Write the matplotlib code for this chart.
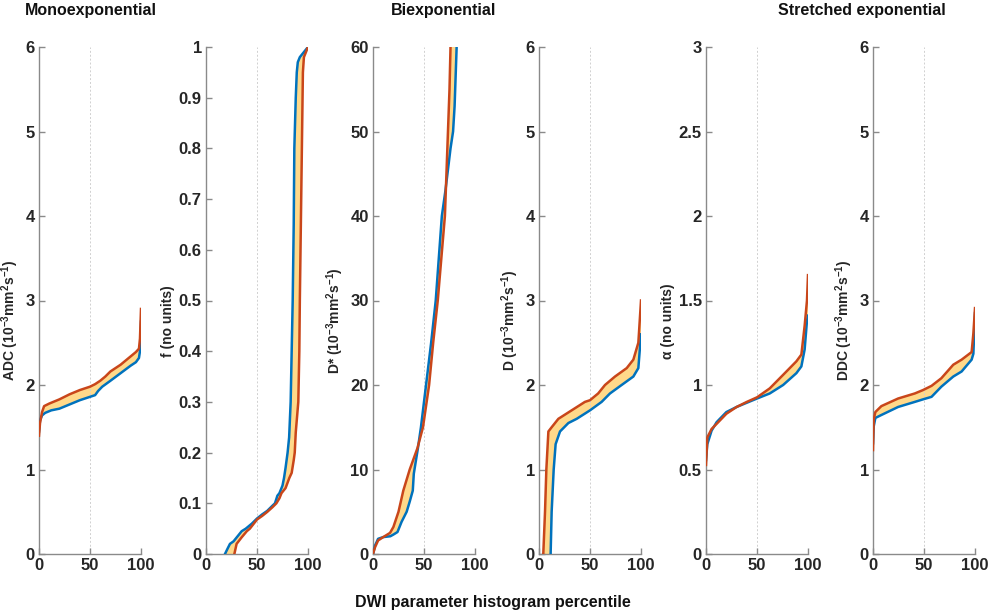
import matplotlib
matplotlib.use("Agg")
import matplotlib.pyplot as plt
import numpy as np

plt.rcParams["font.family"] = ["Liberation Sans", "DejaVu Sans"]
plt.rcParams["font.weight"] = "bold"
plt.rcParams["mathtext.fontset"] = "custom"
plt.rcParams["mathtext.default"] = "bf"
plt.rcParams["mathtext.bf"] = "Liberation Sans:bold"

# percentile -> value, blue and red curves per panel
adc_blue_p = [0, 1, 3, 6, 12, 20, 30, 40, 50, 55, 58, 62, 70, 80, 90, 95, 98, 99, 100]
adc_blue_v = [1.45, 1.58, 1.64, 1.67, 1.70, 1.72, 1.77, 1.82, 1.86, 1.88, 1.93, 1.98, 2.05, 2.14, 2.23, 2.27, 2.32, 2.40, 2.75]
adc_red_p = [0, 1, 3, 5, 10, 20, 30, 40, 50, 55, 60, 65, 70, 80, 90, 95, 98, 99, 100]
adc_red_v = [1.40, 1.55, 1.68, 1.75, 1.78, 1.83, 1.89, 1.94, 1.98, 2.01, 2.05, 2.10, 2.16, 2.24, 2.34, 2.39, 2.43, 2.55, 2.90]

f_blue_p = [18.6, 21, 23.5, 27, 31, 35, 39, 45, 50, 55, 60, 65, 67.6, 70, 72, 75, 76.5, 78, 80, 81.5, 83, 84, 85, 86, 86.6, 88, 89, 90, 92, 96, 100]
f_blue_v = [0, 0.01, 0.02, 0.025, 0.035, 0.045, 0.05, 0.06, 0.07, 0.078, 0.085, 0.095, 0.10, 0.115, 0.12, 0.135, 0.15, 0.17, 0.20, 0.23, 0.30, 0.40, 0.50, 0.65, 0.80, 0.90, 0.95, 0.97, 0.98, 0.99, 1.0]
f_red_p = [27.8, 30, 35, 40, 43, 50, 55, 60, 65, 69, 72, 74, 78, 81.7, 84, 86, 87, 88, 90.5, 91.5, 92, 93, 94, 95, 96, 98, 100]
f_red_v = [0, 0.02, 0.033, 0.045, 0.05, 0.068, 0.075, 0.083, 0.092, 0.10, 0.11, 0.12, 0.13, 0.15, 0.16, 0.185, 0.20, 0.24, 0.30, 0.40, 0.50, 0.65, 0.80, 0.95, 0.98, 0.99, 1.0]

ds_blue_p = [0, 2, 5, 10, 17, 20, 24, 28, 33, 36, 39, 40, 44, 47, 52, 57, 61.5, 64.5, 67.5, 71, 74, 76, 78.5, 80, 82, 84]
ds_blue_v = [0, 1.0, 1.8, 2.0, 2.1, 2.3, 2.6, 3.8, 5.0, 6.2, 7.5, 9.5, 12.5, 15, 20, 25, 30, 35, 40, 43, 46, 48, 50, 53, 60, 66]
ds_red_p = [0, 2, 5, 10, 16.7, 20, 25, 29.7, 36, 43.5, 49, 55, 59, 63.5, 67, 70.5, 72, 73.5, 75, 76, 77]
ds_red_v = [0, 0.8, 1.6, 2.0, 2.5, 3.2, 5.0, 7.5, 10, 12.5, 15, 20, 25, 30, 35, 40, 45, 50, 55, 60, 64]

d_blue_p = [11.4, 12.4, 14.4, 16.3, 20.6, 28.8, 37, 50, 61.4, 69.6, 81, 92.5, 97.4, 100]
d_blue_v = [0, 0.5, 1.0, 1.3, 1.45, 1.55, 1.6, 1.7, 1.8, 1.9, 2.0, 2.1, 2.2, 2.6]
d_red_p = [4.2, 5.9, 7.2, 9.2, 12.4, 19, 32, 45, 50, 58, 64.7, 74.5, 86, 92.5, 97.4, 100]
d_red_v = [0, 0.5, 1.0, 1.45, 1.5, 1.6, 1.7, 1.8, 1.82, 1.9, 2.0, 2.1, 2.2, 2.3, 2.5, 3.0]

a_blue_p = [0, 1.3, 5.5, 10.4, 20, 30, 40, 50, 62.5, 75.6, 88.6, 93.5, 96.7, 99, 100]
a_blue_v = [0.556, 0.65, 0.73, 0.78, 0.84, 0.87, 0.895, 0.92, 0.95, 1.0, 1.07, 1.11, 1.21, 1.38, 1.41]
a_red_p = [0, 1.3, 5.5, 10.4, 20, 30, 40, 50, 62.5, 75.6, 88.6, 93.5, 96.7, 99, 100]
a_red_v = [0.527, 0.69, 0.74, 0.77, 0.83, 0.87, 0.90, 0.927, 0.98, 1.06, 1.14, 1.18, 1.35, 1.50, 1.65]

ddc_blue_p = [0, 0.7, 2.3, 8.2, 24.6, 41, 49, 57.4, 67, 78.7, 86.9, 96.7, 98.4, 100]
ddc_blue_v = [1.31, 1.51, 1.61, 1.645, 1.74, 1.80, 1.83, 1.86, 1.98, 2.10, 2.16, 2.30, 2.37, 2.85]
ddc_red_p = [0, 0.7, 2.3, 8.2, 24.6, 41, 49, 57.4, 67, 78.7, 86.9, 96.7, 98.4, 100]
ddc_red_v = [1.23, 1.59, 1.68, 1.75, 1.84, 1.90, 1.94, 1.99, 2.08, 2.24, 2.30, 2.39, 2.61, 2.91]

ylabels = [r"ADC (10$^{-3}$mm$^{2}$s$^{-1}$)", "f (no units)", r"D* (10$^{-3}$mm$^{2}$s$^{-1}$)",
           r"D (10$^{-3}$mm$^{2}$s$^{-1}$)", "α (no units)", r"DDC (10$^{-3}$mm$^{2}$s$^{-1}$)"]
ymax = [6, 1, 60, 6, 3, 6]
ystep = [1, 0.1, 10, 1, 0.5, 1]
curves = [
    (adc_blue_p, adc_blue_v, adc_red_p, adc_red_v),
    (f_blue_p, f_blue_v, f_red_p, f_red_v),
    (ds_blue_p, ds_blue_v, ds_red_p, ds_red_v),
    (d_blue_p, d_blue_v, d_red_p, d_red_v),
    (a_blue_p, a_blue_v, a_red_p, a_red_v),
    (ddc_blue_p, ddc_blue_v, ddc_red_p, ddc_red_v),
]

blue = "#0072BD"
red = "#C9461A"
fillc = "#FFD98A"
axc = "#8a8a8a"

fig = plt.figure(figsize=(9.89, 6.15), dpi=100)
W = 989.0
H = 615.0
lefts = [39, 206, 373, 539, 706, 873]

for i in range(6):
    ax = fig.add_axes([lefts[i] / W, 1 - 554 / H, 102 / W, 507 / H])
    bp, bv, rp, rv = curves[i]
    ax.fill(np.concatenate([bp, rp[::-1]]), np.concatenate([bv, rv[::-1]]),
            color=fillc, lw=0, zorder=1)
    ax.plot(bp, bv, color=blue, lw=1.8, zorder=3)
    ax.plot(rp, rv, color=red, lw=1.8, zorder=4)
    ax.set_xlim(0, 100)
    ax.set_ylim(0, ymax[i])
    ax.set_xticks([0, 50, 100])
    yt = np.round(np.arange(0, ymax[i] + ystep[i] / 2, ystep[i]), 2)
    ax.set_yticks(yt)
    ax.set_yticklabels(["%g" % t for t in yt])
    ax.grid(axis="x", color="#d0d0d0", lw=0.7, linestyle=(0, (2, 2)), zorder=0)
    for s in ["top", "right"]:
        ax.spines[s].set_visible(False)
    for s in ["left", "bottom"]:
        ax.spines[s].set_color(axc)
        ax.spines[s].set_linewidth(1.0)
    ax.tick_params(direction="in", length=4, width=1, color=axc,
                   labelsize=12, labelcolor="#262626", pad=3)
    ax.set_ylabel(ylabels[i], fontsize=10, fontweight="bold", color="#262626", labelpad=3)
    ax.yaxis.label.set_y(0.46)

fig.text(25 / W, 1 - 10 / H, "Monoexponential", fontsize=11.5, fontweight="bold",
         ha="left", va="center", color="#111111")
fig.text(444 / W, 1 - 10 / H, "Biexponential", fontsize=11.5, fontweight="bold",
         ha="center", va="center", color="#111111")
fig.text(862 / W, 1 - 10 / H, "Stretched exponential", fontsize=11.5, fontweight="bold",
         ha="center", va="center", color="#111111")
fig.text(493 / W, 1 - 602 / H, "DWI parameter histogram percentile", fontsize=11.5,
         fontweight="bold", ha="center", va="center", color="#111111")

fig.savefig("out.png", dpi=100)
